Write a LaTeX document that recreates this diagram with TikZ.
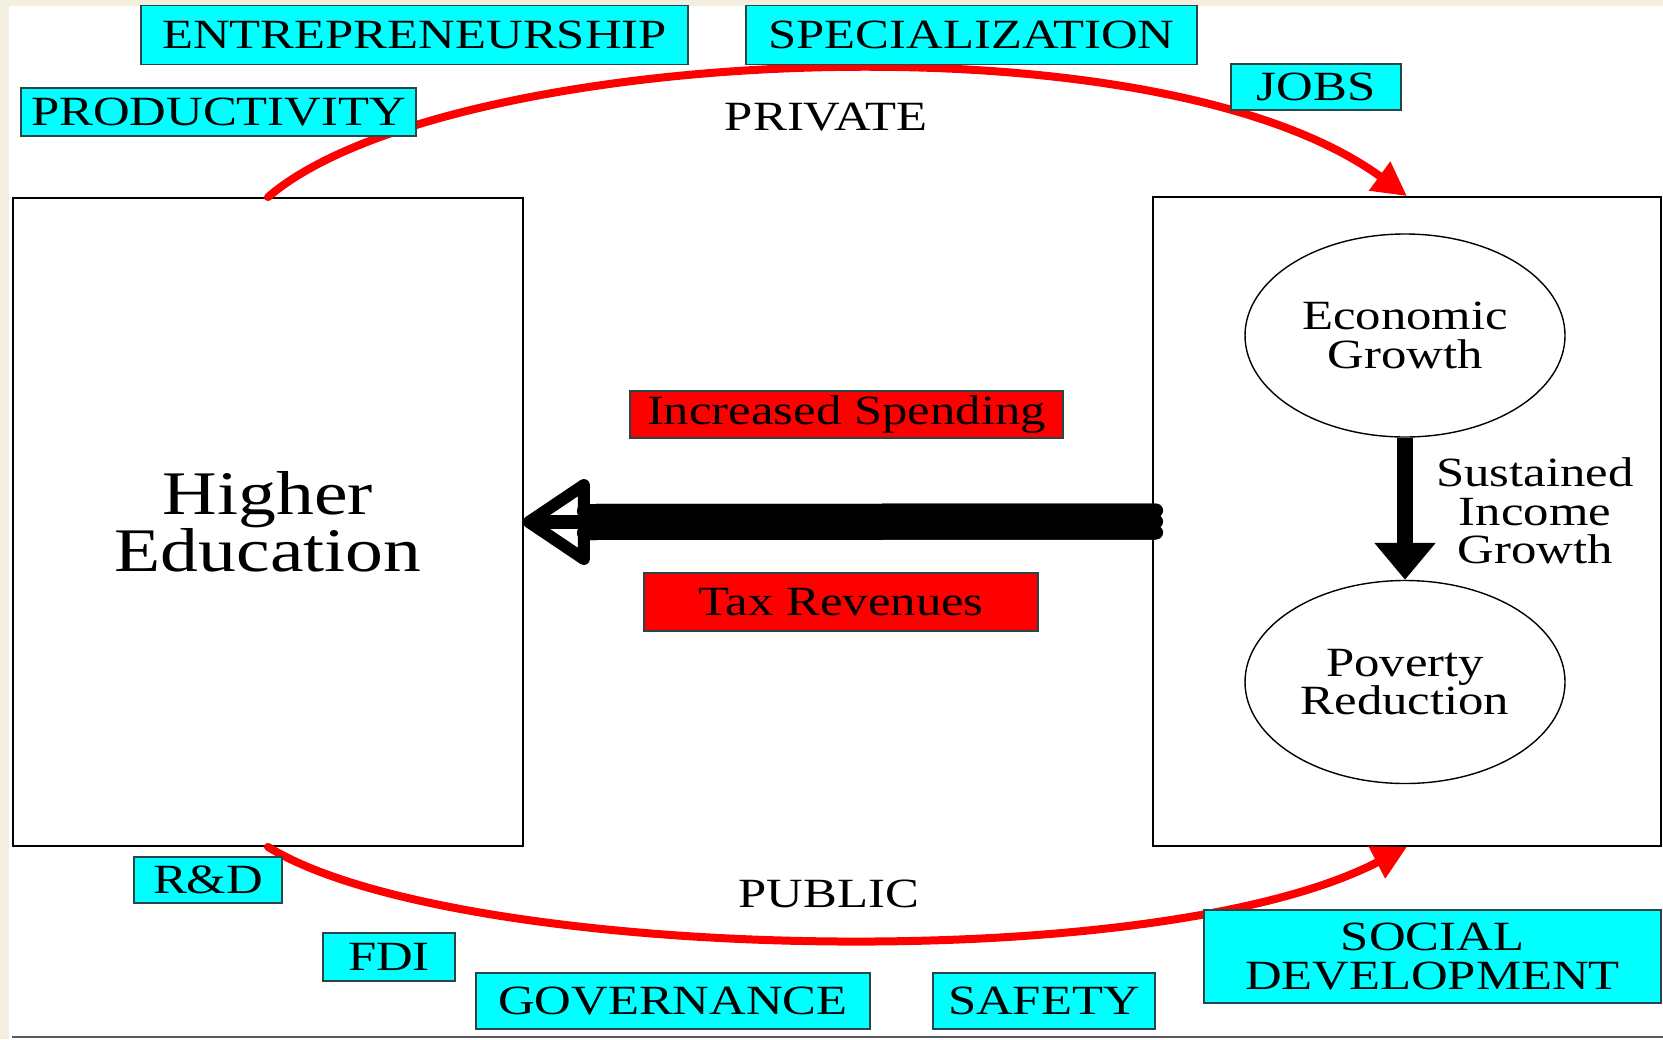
\documentclass[tikz,border=0pt]{standalone}
\usepackage{fontspec}
\setmainfont{Liberation Serif}[FakeStretch=1.22]
\usetikzlibrary{arrows.meta,shapes.geometric}
\definecolor{beige}{HTML}{F2EEE0}
\definecolor{cyanbox}{HTML}{00FFFF}
\definecolor{boxedge}{HTML}{2A4545}
\definecolor{redbox}{HTML}{FF0000}
\begin{document}
\begin{tikzpicture}[x=0.5pt,y=-0.5pt,
  lbl/.style={font=\fontsize{20.8}{19.2}\selectfont, text=black, inner sep=0pt, align=center},
  cbox/.style={lbl, draw=boxedge, fill=cyanbox, line width=0.8pt},
  rbox/.style={lbl, draw=boxedge, fill=redbox, line width=0.8pt},
  bigbox/.style={draw=black, fill=white, line width=0.9pt, inner sep=0pt, align=center},
  oval/.style={lbl, ellipse, draw=black, line width=0.7pt, minimum width=160pt, minimum height=101.5pt},
  redarc/.style={draw=redbox, line width=4pt, line cap=round, -{Triangle[length=17pt,width=17pt]}},
  fatline/.style={line width=7pt, line cap=round, draw=black}
]
\useasboundingbox (0,0) rectangle (1663,1039);
\fill[beige] (0,0) rectangle (1663,1039);
\fill[white] (9,6) rectangle (1663,1039);
\draw[black!65, line width=1pt] (12,1037) -- (1663,1037);

% main boxes
\node[bigbox, font=\fontsize{31}{28.6}\selectfont, minimum width=255pt, minimum height=324pt] (he) at (268,522)
  {Higher\\Education};
\node[bigbox, minimum width=254pt, minimum height=324.5pt] (rb) at (1407,521.5) {};

% red arcs
\draw[redarc] (he.north) .. controls (440,48) and (1150,8) .. (rb.north);
\draw[redarc] (he.south) .. controls (450,960) and (1150,980) .. (rb.south);

\node[lbl] (private) at (826,117) {PRIVATE};
\node[lbl] (public) at (829,894) {PUBLIC};

% cyan labels
\node[cbox, minimum width=273.5pt, minimum height=29.5pt] (entre) at (414.5,35) {ENTREPRENEURSHIP};
\node[cbox, minimum width=225.5pt, minimum height=29.5pt] (spec) at (971.5,35) {SPECIALIZATION};
\node[cbox, minimum width=197.5pt, minimum height=24pt] (prod) at (218.5,112) {PRODUCTIVITY};
\node[cbox, minimum width=85pt, minimum height=23pt] (jobs) at (1316,87) {JOBS};
\node[cbox, minimum width=74pt, minimum height=23pt] (rd) at (208,880) {R\&D};
\node[cbox, minimum width=66pt, minimum height=24pt] (fdi) at (389,957) {FDI};
\node[cbox, minimum width=197pt, minimum height=28pt] (gov) at (673,1001) {GOVERNANCE};
\node[cbox, minimum width=111pt, minimum height=28pt] (safety) at (1044,1001) {SAFETY};
\node[cbox, minimum width=228.5pt, minimum height=46.5pt] (social) at (1432.5,956.5) {SOCIAL\\DEVELOPMENT};

% red labels
\node[rbox, minimum width=216.5pt, minimum height=23.5pt] (spend) at (846.5,414.5) {Increased Spending};
\node[rbox, minimum width=197pt, minimum height=29pt] (tax) at (841,602) {Tax Revenues};

% ellipses
\node[oval] (eg) at (1405,335.5) {Economic\\Growth};
\node[oval] (pr) at (1405,682) {Poverty\\Reduction};
\draw[line width=8pt, -{Triangle[length=18.5pt,width=29.5pt]}] (eg.south) -- (pr.north);
\node[lbl] (sig) at (1535,511) {Sustained\\Income\\Growth};

% big black arrow from right box to Higher Education
\draw[line width=6pt, line join=round, fill=white]
  ([xshift=2.5pt]he.east) -- ([xshift=30pt,yshift=18.5pt]he.east) --
  ([xshift=30pt,yshift=-18.5pt]he.east) -- cycle;
\draw[line width=7pt, line cap=round] ([xshift=30pt]he.east) -- ([xshift=5pt]he.east);
\draw[line width=18pt] ([xshift=2pt]rb.west) -- ([xshift=30pt]he.east);
\draw[fatline] ([xshift=2pt,yshift=5.5pt]rb.west) -- ([xshift=30pt,yshift=5.5pt]he.east);
\draw[fatline] ([xshift=2pt]rb.west) -- ([xshift=30pt]he.east);
\draw[fatline] ([xshift=2pt,yshift=-5.5pt]rb.west) -- ([xshift=30pt,yshift=-5.5pt]he.east);
\end{tikzpicture}
\end{document}
